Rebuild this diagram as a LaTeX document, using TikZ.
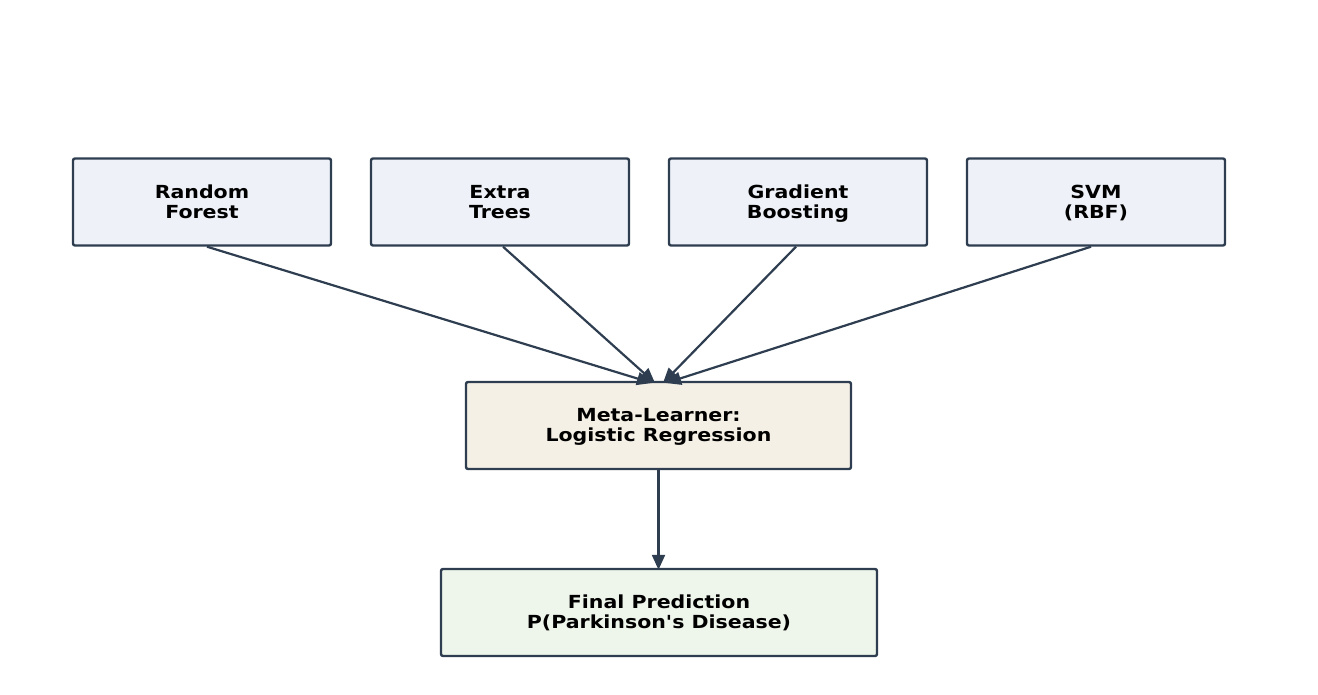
\documentclass[tikz,border=0pt]{standalone}
\usepackage{fontspec}
\newfontfamily\dvs{DejaVu Sans}[FakeStretch=1.14]
\usetikzlibrary{arrows.meta}
\definecolor{edge}{HTML}{2E3E50}
\definecolor{basefill}{HTML}{EEF2F8}
\definecolor{metafill}{HTML}{F5F0E5}
\definecolor{finalfill}{HTML}{EEF5EA}
\newcommand\twolines[2]{\rule[-6pt]{0pt}{24pt}#1\\#2\rule[-6pt]{0pt}{20pt}}
\tikzset{
  box/.style={draw=edge, line width=2.4pt, rounded corners=2pt, inner sep=0pt, align=center,
    font=\dvs\fontsize{18}{20}\selectfont\bfseries, text=black},
  basebox/.style={box, fill=basefill, minimum width=258pt, minimum height=87pt},
  conn/.style={draw=edge, line width=2.2pt, -{Triangle[length=15pt,width=13pt]}},
}
\begin{document}
\begin{tikzpicture}[x=1pt,y=-1pt]
\useasboundingbox (0,0) rectangle (1318,694);
\node[basebox] (rf) at (202,202) {\twolines{Random}{Forest}};
\node[basebox] (et) at (500,202) {\twolines{Extra}{Trees}};
\node[basebox] (gb) at (798,202) {\twolines{Gradient}{Boosting}};
\node[basebox] (svm) at (1096,202) {\twolines{SVM}{(RBF)}};
\node[box, fill=metafill, minimum width=385pt, minimum height=87pt] (meta) at (658.5,425.5) {\twolines{Meta-Learner:}{Logistic Regression}};
\node[box, fill=finalfill, minimum width=436pt, minimum height=87pt] (final) at (659,612.5) {\twolines{Final Prediction}{P(Parkinson's Disease)}};
\coordinate (m1) at (652,383);
\coordinate (m2) at (655,383);
\coordinate (m3) at (663,383);
\coordinate (m4) at (666,383);
\draw[conn] (rf.south -| 207,0) -- (m1);
\draw[conn] (et.south -| 503,0) -- (m2);
\draw[conn] (gb.south -| 796,0) -- (m3);
\draw[conn] (svm.south -| 1091,0) -- (m4);
\draw[conn] (meta.south) -- ([yshift=-2pt]meta.south |- final.north);
\end{tikzpicture}
\end{document}
